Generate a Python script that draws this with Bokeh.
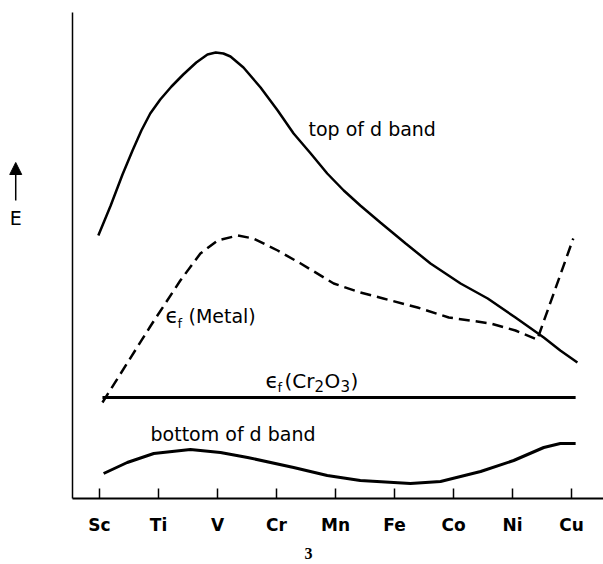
from bokeh.plotting import figure
from bokeh.models import LinearAxis, FixedTicker, Range1d, Label, Arrow, NormalHead
from bokeh.embed import file_html
from bokeh.resources import INLINE

# Category axis: transition metals
elements = ["Sc", "Ti", "V", "Cr", "Mn", "Fe", "Co", "Ni", "Cu"]
element_pos = list(range(len(elements)))

# Top of d band (solid), x in element units, E in arbitrary units
top_x = [-0.02, 0.19, 0.39, 0.56, 0.71, 0.86, 1.03, 1.22, 1.42, 1.64, 1.83, 1.97,
         2.10, 2.22, 2.44, 2.73, 3.02, 3.29, 3.58, 3.86, 4.14, 4.42, 4.76, 5.19,
         5.61, 6.12, 6.58, 7.05, 7.53, 7.81, 8.10]
top_y = [263, 293, 324, 348, 368, 385, 399, 412, 424, 436, 444, 446,
         445, 442, 431, 411, 388, 365, 345, 325, 308, 293, 276, 255,
         235, 215, 200, 181, 161, 148, 136]

# Fermi level of the metal (dashed)
metal_x = [0.05, 0.86, 1.37, 1.71, 2.00, 2.34, 2.61, 3.02, 3.41, 3.97, 4.42, 4.81,
           5.39, 5.92, 6.63, 7.05, 7.42, 8.03]
metal_y = [96, 172, 218, 245, 258, 263, 260, 248, 235, 215, 206, 200,
           191, 181, 175, 168, 159, 260]

# Fermi level of Cr2O3 (flat)
cr2o3_x = [0.05, 8.07]
cr2o3_y = [101, 101]

# Bottom of d band (solid)
bottom_x = [0.07, 0.47, 0.92, 1.54, 2.05, 2.51, 3.29, 3.86, 4.42, 5.27, 5.78, 6.12,
            6.46, 7.02, 7.53, 7.81, 8.07]
bottom_y = [25, 36, 45, 49, 46, 41, 31, 23, 18, 15, 17, 22,
            27, 38, 51, 55, 55]

FONT = "DejaVu Sans"

# Frame covers the whole canvas; the axes are pinned with fixed_location
X0, X1 = -99 / 59, 504 / 59
p = figure(width=603, height=564, output_backend="svg", toolbar_location=None,
           x_axis_type=None, y_axis_type=None,
           x_range=Range1d(X0, X1), y_range=Range1d(-66, 498),
           min_border=0)
p.outline_line_color = None
p.background_fill_color = "white"
p.border_fill_color = "white"

AXIS_X = -27 / 59  # left axis position
xaxis = LinearAxis(ticker=FixedTicker(ticks=element_pos), fixed_location=0,
                   bounds=(AXIS_X, X1),
                   major_label_overrides={i: e for i, e in zip(element_pos, elements)})
xaxis.axis_line_color = "black"
xaxis.axis_line_width = 2
xaxis.major_tick_in = 10
xaxis.major_tick_out = 0
xaxis.major_tick_line_width = 1.5
xaxis.minor_tick_line_color = None
xaxis.major_label_text_font = FONT
xaxis.major_label_text_font_size = "17px"
xaxis.major_label_text_font_style = "bold"
xaxis.major_label_text_color = "black"
xaxis.major_label_standoff = 16
p.add_layout(xaxis, "below")

yaxis = LinearAxis(ticker=FixedTicker(ticks=[]), fixed_location=AXIS_X, bounds=(0, 486))
yaxis.axis_line_color = "black"
yaxis.axis_line_width = 1.5
yaxis.major_tick_line_color = None
yaxis.minor_tick_line_color = None
yaxis.major_label_text_font_size = "0px"
p.add_layout(yaxis, "left")

p.line(top_x, top_y, line_color="black", line_width=2.5)
p.line(metal_x, metal_y, line_color="black", line_width=2.5, line_dash="11 6")
p.line(cr2o3_x, cr2o3_y, line_color="black", line_width=3)
p.line(bottom_x, bottom_y, line_color="black", line_width=3)

def lab(x, y, text, size, align="left", font=FONT, style="normal", baseline="alphabetic"):
    p.add_layout(Label(x=x, y=y, text=text, text_font=font, text_font_size=size,
                       text_font_style=style, text_align=align,
                       text_baseline=baseline, text_color="black"))

def px(x):
    return (x - 99) / 59

lab(px(308), 370, "top of d band", "19px")
lab(px(150), 65, "bottom of d band", "19px")
# epsilon_f (Metal)
lab(px(165), 183, "ϵ", "21px")
lab(px(177), 175, "f", "13px")
lab(px(188), 183, "(Metal)", "19px")
# epsilon_f (Cr2O3)
lab(px(265), 118, "ϵ", "21px")
lab(px(277), 111, "f", "13px")
lab(px(284), 118, "(Cr", "20px")
lab(px(314), 113, "2", "15px")
lab(px(324), 118, "O", "20px")
lab(px(340), 113, "3", "15px")
lab(px(350), 118, ")", "20px")
# energy axis marker
lab(-1.42, 281, "E", "19px", align="center")
# page number
lab(px(308), -55, "3", "16px", align="center", font="Liberation Serif", style="bold",
    baseline="middle")

p.add_layout(Arrow(end=NormalHead(size=12, fill_color="black", line_color="black"),
                   x_start=-1.42, y_start=298, x_end=-1.42, y_end=336,
                   line_width=1.5, line_color="black"))

open("out.html", "w").write(file_html(p, INLINE))
